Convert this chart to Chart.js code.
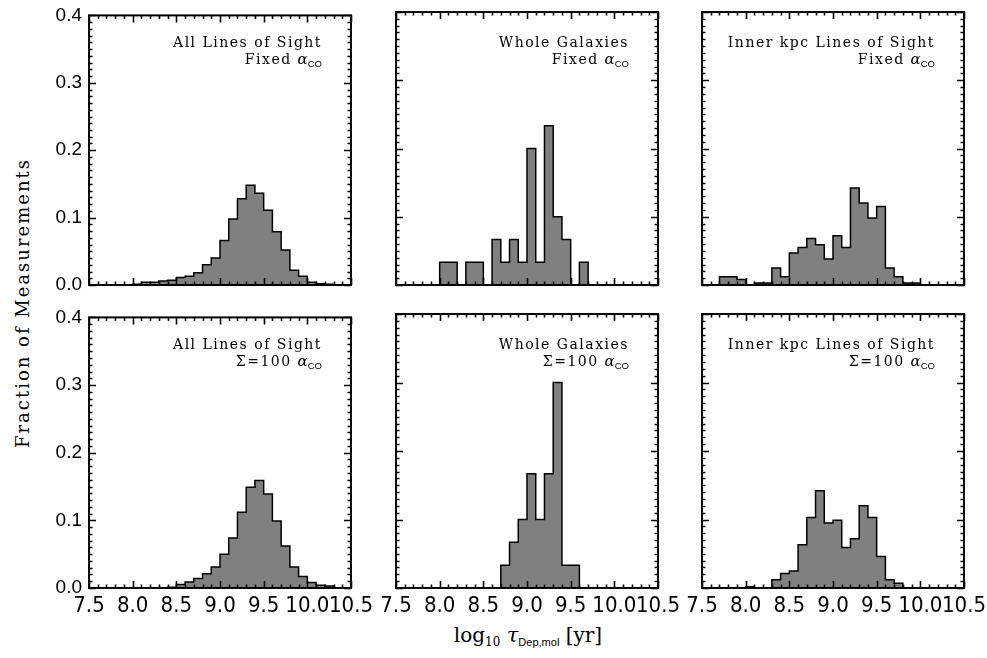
<!DOCTYPE html>
<html>
<head>
<meta charset="utf-8">
<script src="https://cdn.jsdelivr.net/npm/chart.js@4.4.1/dist/chart.umd.min.js"></script>
<style>
  html, body { margin: 0; padding: 0; background: #fff; }
  #wrap { position: relative; width: 987px; height: 658px; overflow: hidden; background: #fff; }
  canvas { position: absolute; }
  .lab { position: absolute; text-align: right; font-family: 'DejaVu Serif', serif; font-size: 14px;
         letter-spacing: 1.5px; line-height: 17px; color: #000; white-space: nowrap; }
  .lab i { font-size: 15px; letter-spacing: 0; }
  .lab .sb { font-family: 'Liberation Sans', Arial, sans-serif; font-size: 9.5px; letter-spacing: 0;
             position: relative; top: 3px; }
  #ytitle { position: absolute; left: 22px; top: 303px; transform: translate(-50%, -50%) rotate(-90deg);
            font-family: 'DejaVu Serif', serif; font-size: 18px; letter-spacing: 2px; white-space: nowrap; color:#000; }
  #xtitle { position: absolute; left: 528px; top: 635px; transform: translate(-50%, -50%);
            font-family: 'DejaVu Serif', serif; font-size: 20px; white-space: nowrap; color:#000; }
  #xtitle .s1 { font-size: 12px; position: relative; top: 4px; }
  #xtitle .s2 { font-family: 'Liberation Sans', Arial, sans-serif; font-size: 11px; position: relative; top: 4px; }
  #xtitle i { font-size: 21px; }
</style>
</head>
<body>
<div id="wrap">
  <div id="ytitle">Fraction of Measurements</div>
  <div id="xtitle">log<span class="s1">10</span>&nbsp;<i>τ</i><span class="s2">Dep,mol</span>&nbsp;[yr]</div>
</div>
<script>
// ---- Data (fraction of measurements per 0.1 dex bin; edges are bin boundaries) ----
const xTickLabels = [7.5, 8.0, 8.5, 9.0, 9.5, 10.0, 10.5];
const yTickLabels = [0.0, 0.1, 0.2, 0.3, 0.4];

// Top row: Fixed alpha_CO
const edgesAllFixed = [8.0, 8.1, 8.2, 8.3, 8.4, 8.5, 8.6, 8.7, 8.8, 8.9, 9.0, 9.1, 9.2, 9.3, 9.4, 9.5, 9.6, 9.7, 9.8, 9.9, 10.0, 10.1, 10.2, 10.3];
const valsAllFixed  = [0.001, 0.004, 0.004, 0.006, 0.007, 0.011, 0.013, 0.018, 0.030, 0.040, 0.066, 0.098, 0.128, 0.148, 0.136, 0.111, 0.079, 0.052, 0.022, 0.013, 0.004, 0.002, 0.001];

const edgesGalFixed = [8.0, 8.1, 8.2, 8.3, 8.4, 8.5, 8.6, 8.7, 8.8, 8.9, 9.0, 9.1, 9.2, 9.3, 9.4, 9.5, 9.6, 9.7];
const valsGalFixed  = [0.0333, 0.0333, 0, 0.0333, 0.0333, 0, 0.0667, 0.0333, 0.0667, 0.0333, 0.2, 0.0333, 0.2333, 0.1, 0.0667, 0, 0.0333];

const edgesInnerFixed = [7.7, 7.8, 7.9, 8.0, 8.1, 8.2, 8.3, 8.4, 8.5, 8.6, 8.7, 8.8, 8.9, 9.0, 9.1, 9.2, 9.3, 9.4, 9.5, 9.6, 9.7, 9.8, 9.9, 10.0];
const valsInnerFixed  = [0.012, 0.012, 0.008, 0, 0.003, 0.003, 0.025, 0.012, 0.047, 0.055, 0.068, 0.059, 0.038, 0.072, 0.055, 0.142, 0.120, 0.098, 0.115, 0.025, 0.012, 0.003, 0.003];

// Bottom row: Sigma=100 alpha_CO
const edgesAllSig = [8.4, 8.5, 8.6, 8.7, 8.8, 8.9, 9.0, 9.1, 9.2, 9.3, 9.4, 9.5, 9.6, 9.7, 9.8, 9.9, 10.0, 10.1, 10.2, 10.3];
const valsAllSig  = [0.001, 0.005, 0.009, 0.014, 0.021, 0.031, 0.050, 0.074, 0.112, 0.149, 0.159, 0.139, 0.099, 0.062, 0.031, 0.017, 0.008, 0.004, 0.003];

const edgesGalSig = [8.7, 8.8, 8.9, 9.0, 9.1, 9.2, 9.3, 9.4, 9.5, 9.6];
const valsGalSig  = [0.0333, 0.0667, 0.1, 0.1667, 0.1, 0.1667, 0.3, 0.0333, 0.0333];

const edgesInnerSig = [8.0, 8.1, 8.2, 8.3, 8.4, 8.5, 8.6, 8.7, 8.8, 8.9, 9.0, 9.1, 9.2, 9.3, 9.4, 9.5, 9.6, 9.7, 9.8];
const valsInnerSig  = [0.002, 0, 0, 0.012, 0.021, 0.025, 0.063, 0.103, 0.142, 0.095, 0.099, 0.059, 0.072, 0.120, 0.103, 0.046, 0.012, 0.007];

const panelTitles = ['All Lines of Sight', 'Whole Galaxies', 'Inner kpc Lines of Sight'];
const rowLabels = ['Fixed', 'Σ=100'];

// ---- Layout ----
const colLeft = [89, 396, 702];
const panelW = 262;
const rowTop = [12, 314];
const rowH = [273, 274];
const PADL = 70, PADT = 15, PADR = 30, PADB = 45;

const frameTicks = {
  id: 'frameTicks',
  afterDatasetsDraw(chart) {
    const { ctx, chartArea: a, scales: { x, y } } = chart;
    ctx.save();
    ctx.strokeStyle = '#000';
    ctx.lineWidth = 1.6;
    ctx.beginPath();
    for (let k = 75; k <= 105; k++) {
      const px = Math.round(x.getPixelForValue(k / 10)) + 0.5;
      const major = (k % 5 === 0);
      const L = major ? 7 : 3.5;
      ctx.moveTo(px, a.bottom); ctx.lineTo(px, a.bottom - L);
      ctx.moveTo(px, a.top); ctx.lineTo(px, a.top + L);
    }
    for (let k = 0; k <= 40; k++) {
      const py = Math.round(y.getPixelForValue(k / 100)) + 0.5;
      const major = (k % 10 === 0);
      const L = major ? 7 : 3.5;
      ctx.moveTo(a.left, py); ctx.lineTo(a.left + L, py);
      ctx.moveTo(a.right, py); ctx.lineTo(a.right - L, py);
    }
    ctx.stroke();
    ctx.lineWidth = 2;
    ctx.strokeRect(a.left, a.top, a.right - a.left, a.bottom - a.top);
    ctx.restore();
  }
};

function makePanel(edges, vals, col, row) {
  const wrap = document.getElementById('wrap');
  const cv = document.createElement('canvas');
  const W = panelW + PADL + PADR, H = rowH[row] + PADT + PADB;
  cv.width = W; cv.height = H;
  cv.style.width = W + 'px'; cv.style.height = H + 'px';
  cv.style.left = (colLeft[col] - PADL) + 'px';
  cv.style.top = (rowTop[row] - PADT) + 'px';
  wrap.appendChild(cv);

  const pts = [{ x: edges[0], y: 0 }];
  for (let i = 0; i < vals.length; i++) pts.push({ x: edges[i], y: vals[i] });
  pts.push({ x: edges[edges.length - 1], y: 0 });

  new Chart(cv, {
    type: 'line',
    data: { datasets: [{
      data: pts, stepped: true, fill: 'origin',
      backgroundColor: '#808080', borderColor: '#000', borderWidth: 1.5,
      pointRadius: 0, tension: 0
    }]},
    options: {
      responsive: false, animation: false, devicePixelRatio: 1, events: [],
      layout: { padding: { top: PADT, right: PADR, left: 0, bottom: 0 } },
      plugins: { legend: { display: false }, tooltip: { enabled: false } },
      scales: {
        x: {
          type: 'linear', min: 7.5, max: 10.5,
          afterBuildTicks: s => { s.ticks = xTickLabels.map(v => ({ value: v })); },
          afterFit: s => { s.height = PADB; },
          grid: { display: false, drawTicks: false }, border: { display: false },
          ticks: { display: row === 1, autoSkip: false, maxRotation: 0, minRotation: 0,
                   color: '#000', padding: 5,
                   font: { family: "'Liberation Sans Narrow', 'DejaVu Sans Condensed', sans-serif", size: 22 },
                   callback: v => Number(v).toFixed(1) }
        },
        y: {
          type: 'linear', min: 0, max: 0.4,
          afterBuildTicks: s => { s.ticks = yTickLabels.map(v => ({ value: v })); },
          afterFit: s => { s.width = PADL; },
          grid: { display: false, drawTicks: false }, border: { display: false },
          ticks: { display: col === 0, autoSkip: false, color: '#000', padding: 7,
                   font: { family: "'Liberation Sans', Arial, sans-serif", size: 19 },
                   callback: v => Number(v).toFixed(1) }
        }
      }
    },
    plugins: [frameTicks]
  });

  const lab = document.createElement('div');
  lab.className = 'lab';
  lab.style.right = (987 - (colLeft[col] + panelW - 29)) + 'px';
  lab.style.top = (rowTop[row] + 22) + 'px';
  lab.innerHTML = panelTitles[col] + '<br>' + rowLabels[row] + '&nbsp;<i>α</i><span class="sb">CO</span>';
  wrap.appendChild(lab);
}

makePanel(edgesAllFixed, valsAllFixed, 0, 0);
makePanel(edgesGalFixed, valsGalFixed, 1, 0);
makePanel(edgesInnerFixed, valsInnerFixed, 2, 0);
makePanel(edgesAllSig, valsAllSig, 0, 1);
makePanel(edgesGalSig, valsGalSig, 1, 1);
makePanel(edgesInnerSig, valsInnerSig, 2, 1);
</script>
</body>
</html>
